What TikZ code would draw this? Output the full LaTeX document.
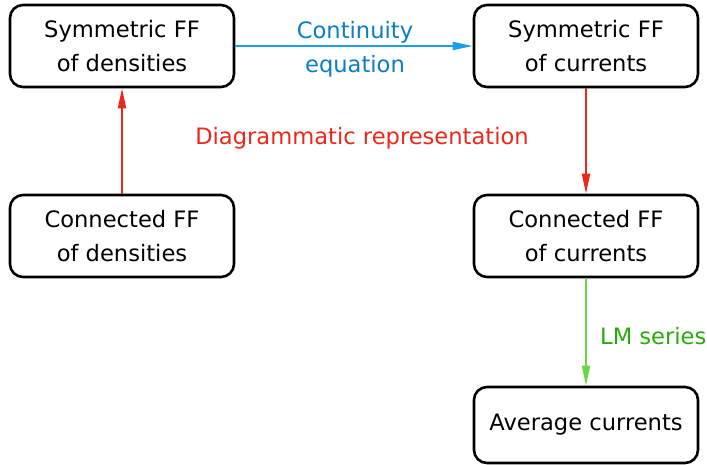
\documentclass[tikz,border=0pt]{standalone}
\usepackage{fontspec}
\setmainfont{DejaVu Sans}
\usetikzlibrary{arrows.meta}
\definecolor{bluetxt}{RGB}{10,125,195}
\definecolor{blueline}{RGB}{25,160,235}
\definecolor{redc}{RGB}{235,40,25}
\definecolor{greentxt}{RGB}{40,170,10}
\definecolor{greenline}{RGB}{105,215,70}
\tikzset{
  box/.style={draw=black, line width=2.6pt, rounded corners=13pt, minimum width=224pt, minimum height=82pt, align=center, font=\fontsize{22.6}{34}\selectfont, inner sep=0pt},
  conn/.style={line width=2pt, -{Triangle[length=20pt,width=8pt]}},
  lbl/.style={font=\fontsize{22.6}{34}\selectfont, align=center, inner sep=0pt}
}
\begin{document}
\begin{tikzpicture}[x=1pt,y=-1pt]
\useasboundingbox (0,0) rectangle (707,465);
\node[box] (sd) at (122,46) {Symmetric FF\\of densities};
\node[box] (sc) at (586,46) {Symmetric FF\\of currents};
\node[box] (cd) at (122,236) {Connected FF\\of densities};
\node[box] (cc) at (586,236) {Connected FF\\of currents};
\node[box, minimum height=76pt] (av) at (586,425) {Average currents};
\draw[conn, blueline] (sd) -- (sc);
\draw[conn, redc] (cd) -- (sd);
\draw[conn, redc] (sc) -- (cc);
\draw[conn, greenline] (cc) -- (av);
\node[lbl, text=bluetxt] (ce) at (355,49) {Continuity\\equation};
\node[lbl, text=redc] (dr) at (362,138) {Diagrammatic representation};
\node[lbl, text=greentxt, anchor=west] (lm) at (600,336) {LM series};
\end{tikzpicture}
\end{document}
